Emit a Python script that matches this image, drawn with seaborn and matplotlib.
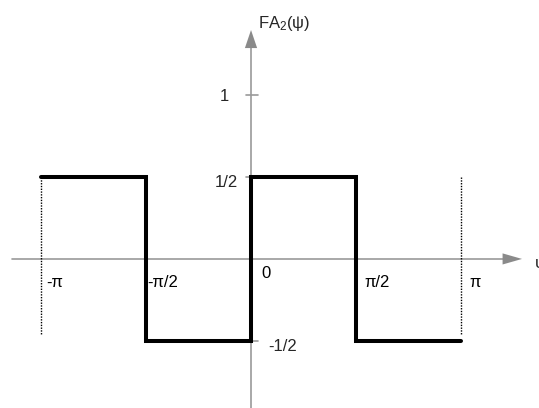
import numpy as np
import pandas as pd
import matplotlib
matplotlib.use("Agg")
import matplotlib.pyplot as plt
import seaborn as sns

# Square wave FA2(psi): values at the corners of the step curve
psi_points = [-np.pi, -np.pi / 2, -np.pi / 2, 0, 0, np.pi / 2, np.pi / 2, np.pi]
fa2_points = [0.5, 0.5, -0.5, -0.5, 0.5, 0.5, -0.5, -0.5]

x_ticks = [-np.pi, -np.pi / 2, np.pi / 2, np.pi]
x_tick_labels = ["-π", "-π/2", "π/2", "π"]
y_ticks = [1, 0.5, -0.5]
y_tick_labels = ["1", "1/2", "-1/2"]

sns.set_theme(style="white")
plt.rcParams["font.family"] = ["Liberation Sans", "DejaVu Sans"]
plt.rcParams["mathtext.fontset"] = "custom"
plt.rcParams["mathtext.rm"] = "Liberation Sans"
plt.rcParams["mathtext.it"] = "Liberation Sans"

AXIS_GREY = "#9a9a9a"
HEAD_GREY = "#8a8a8a"

fig = plt.figure(figsize=(5.39, 4.08), dpi=100)
ax = fig.add_axes([0, 0, 1, 1])

# axes with arrow heads
ax.plot([-3.575, 3.9], [0, 0], color=AXIS_GREY, lw=1.2, zorder=1)
ax.plot([0, 0], [-0.909, 1.3], color=AXIS_GREY, lw=1.2, zorder=1)
ax.annotate("", xy=(4.054, 0), xytext=(3.7, 0),
            arrowprops=dict(arrowstyle="-|>,head_length=0.7,head_width=0.2",
                            mutation_scale=20, color=HEAD_GREY, lw=0,
                            shrinkA=0, shrinkB=0))
ax.annotate("", xy=(0, 1.396), xytext=(0, 1.2),
            arrowprops=dict(arrowstyle="-|>,head_length=0.65,head_width=0.22",
                            mutation_scale=20, color=HEAD_GREY, lw=0,
                            shrinkA=0, shrinkB=0))

# small tick marks on the vertical axis
for yt in y_ticks:
    ax.plot([-0.08, 0.1], [yt, yt], color=AXIS_GREY, lw=1.2, zorder=1)

# dotted period boundaries
for xb in [-np.pi, np.pi]:
    ax.plot([xb, xb], [0.5, -0.465], color="black", lw=1.0,
            linestyle=(0, (1, 1)), zorder=2)

# the square wave
df = pd.DataFrame({"psi": psi_points, "fa2": fa2_points})
sns.lineplot(data=df, x="psi", y="fa2", sort=False, estimator=None,
             color="black", linewidth=2.9, ax=ax, zorder=3)
ax.lines[-1].set_solid_joinstyle("miter")
ax.set_xlim(-3.755, 4.308)
ax.set_ylim(-0.909, 1.579)
ax.axis("off")

fs = 12
# x labels (offsets in points)
x_offsets = [(3.6, -17), (0.7, -17), (5.8, -17), (5.8, -17)]
for xv, lab, off in zip(x_ticks, x_tick_labels, x_offsets):
    ax.annotate(lab, xy=(xv, 0), xytext=off, textcoords="offset points",
                ha="left", va="center", fontsize=fs, color="black")
ax.annotate("0", xy=(0, 0), xytext=(7.2, -10.5), textcoords="offset points",
            ha="left", va="center", fontsize=fs, color="black")

# y labels
ax.annotate(y_tick_labels[0], xy=(0, y_ticks[0]), xytext=(-15.8, -1.4),
            textcoords="offset points", ha="right", va="center", fontsize=fs)
ax.annotate(y_tick_labels[1], xy=(0, y_ticks[1]), xytext=(-9.4, -4.3),
            textcoords="offset points", ha="right", va="center", fontsize=fs)
ax.annotate(y_tick_labels[2], xy=(0, y_ticks[2]), xytext=(12.2, -4.3),
            textcoords="offset points", ha="left", va="center", fontsize=fs)

# axis titles
ax.annotate(r"FA$_{\rm 2}$(ψ)", xy=(0, 1.396), xytext=(5, 4.5),
            textcoords="offset points", ha="left", va="center", fontsize=fs)
ax.annotate("ψ", xy=(4.054, 0), xytext=(9.5, -3), textcoords="offset points",
            ha="left", va="center", fontsize=fs, annotation_clip=False)

fig.savefig("out.png", dpi=100, facecolor="white")
